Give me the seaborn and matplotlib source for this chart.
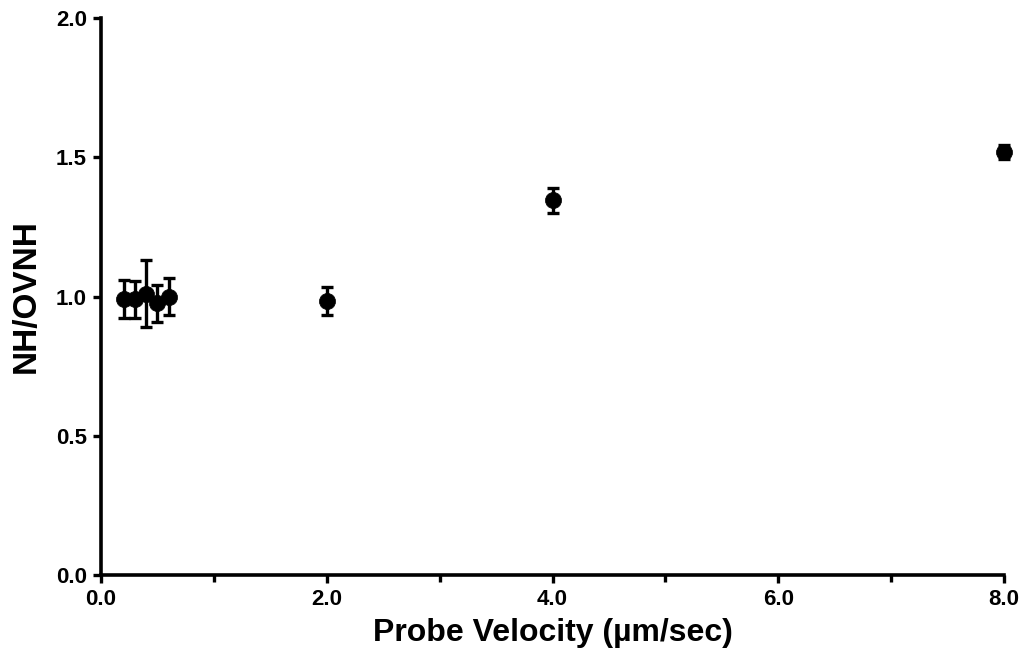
import matplotlib
matplotlib.use("Agg")
import matplotlib.pyplot as plt
import seaborn as sns
import pandas as pd
from matplotlib.ticker import MultipleLocator, FormatStrFormatter

velocity = [0.2, 0.3, 0.4, 0.5, 0.6, 2.0, 4.0, 8.0]
ratio = [0.99, 0.99, 1.01, 0.975, 1.0, 0.985, 1.345, 1.52]
err = [0.068, 0.066, 0.12, 0.065, 0.067, 0.05, 0.045, 0.025]

df = pd.DataFrame({"v": velocity, "r": ratio, "e": err})

sns.set_theme(style="white")
plt.rcParams['font.family'] = ['Liberation Sans', 'DejaVu Sans']
plt.rcParams['font.weight'] = 'bold'
plt.rcParams['text.color'] = 'black'
plt.rcParams['axes.labelcolor'] = 'black'
plt.rcParams['xtick.color'] = 'black'
plt.rcParams['ytick.color'] = 'black'

fig = plt.figure(figsize=(10.26, 6.70), dpi=100)
ax = fig.add_axes([0.0984, 0.1418, 0.9786 - 0.0984, 0.9731 - 0.1418])

ax.errorbar(df["v"], df["r"], yerr=df["e"], fmt="none", ecolor="black",
            elinewidth=2.4, capsize=4.5, capthick=2.4, clip_on=False, zorder=2)
sns.scatterplot(data=df, x="v", y="r", ax=ax, color="black", s=135,
                edgecolor="black", linewidth=0.5, clip_on=False, zorder=3)

ax.set_xlim(0, 8)
ax.set_ylim(0, 2)
ax.xaxis.set_major_locator(MultipleLocator(2))
ax.xaxis.set_minor_locator(MultipleLocator(1))
ax.yaxis.set_major_locator(MultipleLocator(0.5))
ax.xaxis.set_major_formatter(FormatStrFormatter("%.1f"))
ax.yaxis.set_major_formatter(FormatStrFormatter("%.1f"))

for s in ["top", "right"]:
    ax.spines[s].set_visible(False)
for s in ["left", "bottom"]:
    ax.spines[s].set_linewidth(2.6)
    ax.spines[s].set_color("black")

ax.tick_params(axis="both", which="major", direction="out", length=6, width=2.4,
               color="black", labelcolor="black", labelsize=16, pad=4,
               bottom=True, left=True)
ax.tick_params(axis="x", which="minor", direction="out", length=5, width=2.4,
               color="black", bottom=True)
for lab in ax.get_xticklabels() + ax.get_yticklabels():
    lab.set_fontweight("bold")

ax.set_xlabel("Probe Velocity (µm/sec)", fontsize=23, fontweight="bold",
              labelpad=6, color="black")
ax.set_ylabel("NH/OVNH", fontsize=24, fontweight="bold", labelpad=10,
              color="black")

fig.savefig("out.png", dpi=100)
